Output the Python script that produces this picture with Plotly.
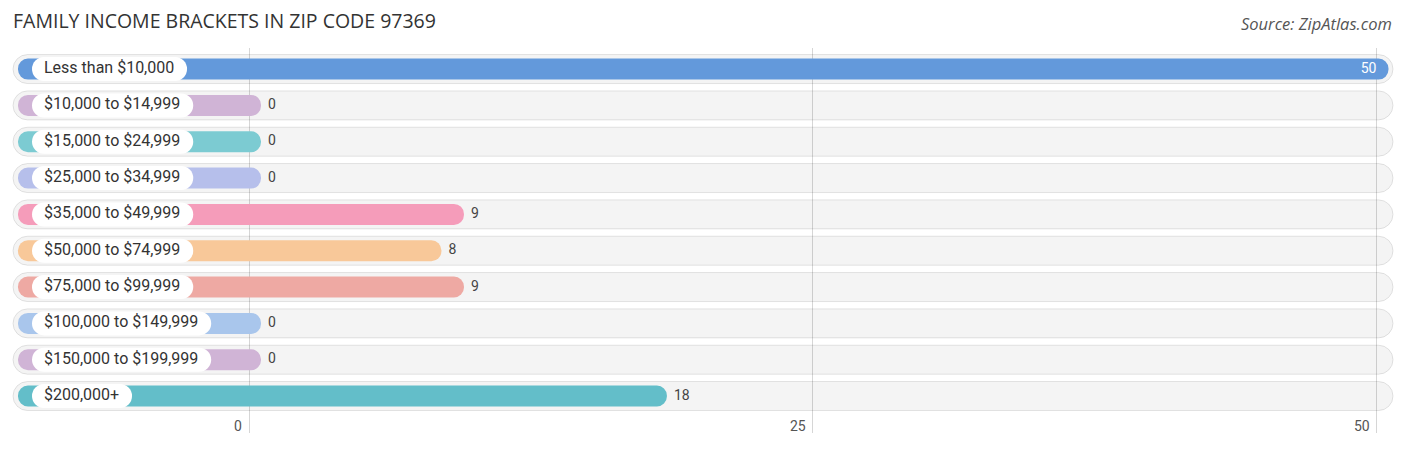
import plotly.graph_objects as go

# ---------------- data ----------------
categories = [
    "Less than $10,000", "$10,000 to $14,999", "$15,000 to $24,999",
    "$25,000 to $34,999", "$35,000 to $49,999", "$50,000 to $74,999",
    "$75,000 to $99,999", "$100,000 to $149,999", "$150,000 to $199,999",
    "$200,000+",
]
values = [50, 0, 0, 0, 9, 8, 9, 0, 0, 18]
bar_colors = [
    "#6399db", "#d0b4d6", "#7ccbd2", "#b6bfeb", "#f59cba",
    "#f8c899", "#eea9a3", "#a9c6ec", "#d0b4d6", "#63bec9",
]
tick_values = [0, 25, 50]
tick_labels = ["0", "25", "50"]
title_text = "FAMILY INCOME BRACKETS IN ZIP CODE 97369"
source_text = "Source: ZipAtlas.com"

# ---------------- layout constants ----------------
OFF = 8                    # page body margin around the figure
W, H = 1406 - OFF, 450 - OFF
PX_ZERO = 249.0 - OFF      # figure pixel of x = 0
PX_PER_UNIT = 22.55        # pixels per unit
PLOT_TOP, PLOT_BOT = 48 - OFF, 433 - OFF
M_TOP, M_BOT = PLOT_TOP, H - PLOT_BOT
ROW_TOP_PAD = 0.58

def px2d(px_page):
    return (px_page - OFF - PX_ZERO) / PX_PER_UNIT

def d(px):  # pixel distance -> data distance
    return px / PX_PER_UNIT

x_min, x_max = -PX_ZERO / PX_PER_UNIT, (W - PX_ZERO) / PX_PER_UNIT
plot_h = PLOT_BOT - PLOT_TOP
row_px = 36.33
y_top = -ROW_TOP_PAD
y_bot = y_top + plot_h / row_px

LABEL_FONT = "Roboto, Arial, sans-serif"
LABEL_SIZE = 16

# approximate Roboto advance widths (em)
CW = {c: 0.5615 for c in "0123456789$"}
CW.update({",": 0.192, " ": 0.248, "t": 0.327, "o": 0.570, "L": 0.538,
           "e": 0.528, "s": 0.516, "h": 0.551, "a": 0.544, "n": 0.552,
           "+": 0.567})

def text_w(s, size=LABEL_SIZE):
    return sum(CW.get(c, 0.55) for c in s) * size

n = len(categories)
ycat = categories

def pill(left, right, color, width_px, radius, name, line=None):
    return go.Bar(
        y=ycat, x=[r - l for l, r in zip(left, right)], base=left,
        orientation="h", width=width_px / row_px,
        marker=dict(color=color, cornerradius=radius,
                    line=line if line else dict(width=0)),
        hoverinfo="skip", showlegend=False, name=name,
    )

fig = go.Figure()

# background tracks (translucent so the grid lines show through)
fig.add_trace(pill([px2d(13)] * n, [px2d(1393)] * n, "rgba(0,0,0,0.045)", 29, 14.5, "bg",
                   line=dict(color="rgba(0,0,0,0.10)", width=1)))

# coloured value bars
cap = d(12)
fig.add_trace(pill([px2d(18)] * n, [v + cap for v in values], bar_colors, 21, 10, "bars"))

# white label pills
pl = px2d(32)
fig.add_trace(pill([pl] * n, [pl + d(text_w(c) + 25) for c in categories],
                   "#ffffff", 24, 12, "pills"))

# category labels
fig.add_trace(go.Scatter(
    x=[px2d(44)] * n, y=ycat, mode="text", text=categories,
    textposition="middle right",
    textfont=dict(family=LABEL_FONT, size=LABEL_SIZE, color="#333333"),
    hoverinfo="skip", showlegend=False, cliponaxis=False,
))

# value labels
vmax = max(values)
inside = [v >= 0.9 * vmax for v in values]
out_x = [v + cap + d(7) for v, ins in zip(values, inside) if not ins]
out_y = [c for c, ins in zip(ycat, inside) if not ins]
out_t = [str(v) for v, ins in zip(values, inside) if not ins]
in_x = [v + cap - d(12) for v, ins in zip(values, inside) if ins]
in_y = [c for c, ins in zip(ycat, inside) if ins]
in_t = [str(v) for v, ins in zip(values, inside) if ins]
fig.add_trace(go.Scatter(
    x=out_x, y=out_y, mode="text", text=out_t, textposition="middle right",
    textfont=dict(family=LABEL_FONT, size=14, color="#444444"),
    hoverinfo="skip", showlegend=False, cliponaxis=False,
))
fig.add_trace(go.Scatter(
    x=in_x, y=in_y, mode="text", text=in_t, textposition="middle left",
    textfont=dict(family=LABEL_FONT, size=14, color="#ffffff"),
    hoverinfo="skip", showlegend=False, cliponaxis=False,
))

annotations = [dict(text=source_text, xref="paper", yref="paper",
                    x=(1394 - OFF) / W, y=(PLOT_BOT - (24 - OFF)) / plot_h,
                    xanchor="right", yanchor="middle", showarrow=False,
                    font=dict(family="Open Sans, Arial, sans-serif", size=16.5,
                              color="#555555", style="italic"))]
# x tick labels: right-aligned just left of each grid line, inside plot bottom
for tv, tt in zip(tick_values, tick_labels):
    annotations.append(dict(text=tt, x=tv, xref="x", y=0, yref="paper",
                            xanchor="right", yanchor="middle", xshift=-5, yshift=7,
                            showarrow=False,
                            font=dict(family=LABEL_FONT, size=14, color="#555555")))

fig.update_layout(
    width=W, height=H,
    margin=dict(l=0, r=0, t=M_TOP, b=M_BOT, pad=0),
    barmode="overlay",
    plot_bgcolor="#ffffff", paper_bgcolor="#ffffff",
    title=dict(text=title_text, x=(13 - OFF) / W, xanchor="left", xref="container",
               y=1 - (21 - OFF) / H, yanchor="middle", yref="container",
               font=dict(family="Open Sans, Arial, sans-serif", size=19.5, color="#333333")),
    xaxis=dict(range=[x_min, x_max], tickvals=tick_values, showticklabels=False,
               showgrid=True, gridcolor="#d6d6d6", gridwidth=1, zeroline=False,
               showline=False, ticks="", fixedrange=True, layer="below traces"),
    yaxis=dict(range=[y_bot, y_top], showticklabels=False, showgrid=False,
               zeroline=False, showline=False, ticks="", fixedrange=True,
               type="category", categoryorder="array", categoryarray=categories),
    annotations=annotations,
)

fig.write_html("out.html")
